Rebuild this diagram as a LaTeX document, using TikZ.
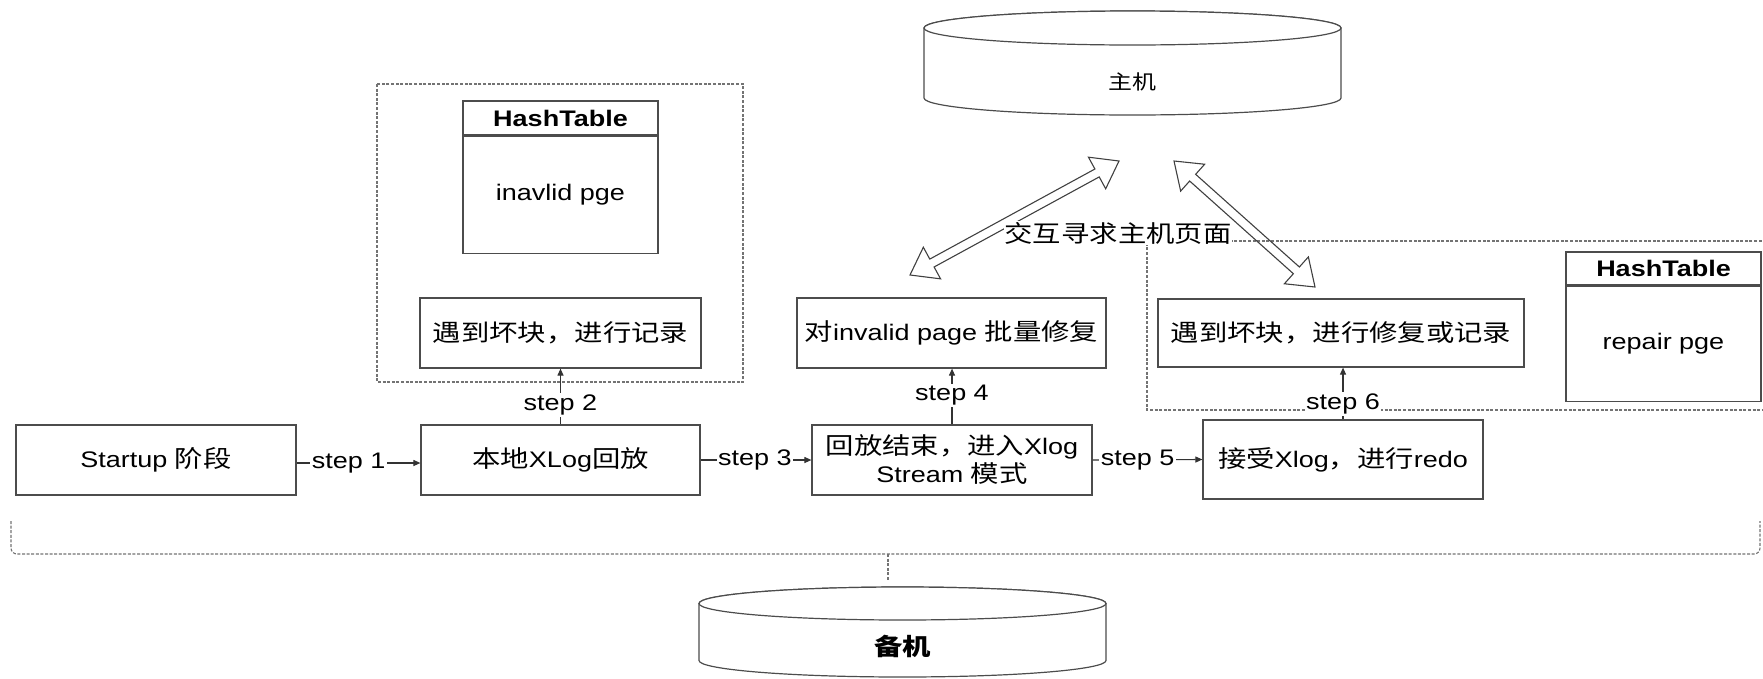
\documentclass[tikz,border=0pt]{standalone}
\usepackage{fontspec}
\setmainfont[FakeStretch=1.2]{Liberation Sans}
\newfontfamily\cjk[FakeStretch=1.2,Scale=1.05]{Noto Sans CJK SC}
\usetikzlibrary{arrows.meta,calc}
\newcommand\zh[1]{{\cjk #1}}
\newcommand\dblarr[2]{%
  \draw[dbl] (#1) -- ($(#1)!25pt!(#2)!18pt!90:(#2)$) -- ($(#1)!25pt!(#2)!4.5pt!90:(#2)$)
    -- ($(#2)!25pt!(#1)!4.5pt!-90:(#1)$) -- ($(#2)!25pt!(#1)!18pt!-90:(#1)$) -- (#2)
    -- ($(#2)!25pt!(#1)!18pt!90:(#1)$) -- ($(#2)!25pt!(#1)!4.5pt!90:(#1)$)
    -- ($(#1)!25pt!(#2)!4.5pt!-90:(#2)$) -- ($(#1)!25pt!(#2)!18pt!-90:(#2)$) -- cycle;}
\tikzset{
  txt/.style={font=\fontsize{22.5}{28}\selectfont},
  box/.style={txt, draw=black!70, line width=1.2pt, fill=white, align=center, inner sep=0pt},
  lbl/.style={txt, fill=white, inner sep=1.5pt},
  conn/.style={draw=black!80, line width=1.1pt, -{Triangle[length=7pt,width=6pt]}},
  region/.style={draw=black!55, line width=1.1pt, dash pattern=on 3pt off 1.6pt},
  dbl/.style={draw=black!75, line width=1.1pt, line join=miter},
  cyl/.style={draw=black!70, line width=1.2pt, fill=white},
}
\begin{document}
\begin{tikzpicture}[x=1pt, y=-1pt]
\useasboundingbox (0,0) rectangle (1763,678);
\clip (0,0) rectangle (1763,678);

% dashed regions
\draw[region] (377,84) rectangle (743,382);
\draw[region] (1780,241) -- (1147,241) -- (1147,410) -- (1780,410);

% bottom bracket
\coordinate (bl) at (11,521);
\coordinate (br) at (1760,521);
\coordinate (bm) at (888,554);
\coordinate (sbtop) at (888,581);
\draw[region, rounded corners=6pt] (bl) |- (bm) -| (br);
\draw[region] (bm) -- (sbtop);

% cylinders
\draw[cyl] (924,28) -- (924,98) arc[start angle=180,end angle=360,x radius=208.5pt,y radius=17pt]
  -- (1341,28) arc[start angle=0,end angle=180,x radius=208.5pt,y radius=17pt] -- cycle;
\draw[cyl] (1132.5,28) ellipse[x radius=208.5pt,y radius=17pt];
\node[txt, font=\fontsize{19}{22}\selectfont] (host) at (1132,82) {\zh{主机}};

\draw[cyl] (699,603.5) -- (699,660.5) arc[start angle=180,end angle=360,x radius=203.5pt,y radius=16.5pt]
  -- (1106,603.5) arc[start angle=0,end angle=180,x radius=203.5pt,y radius=16.5pt] -- cycle;
\draw[cyl] (902.5,603.5) ellipse[x radius=203.5pt,y radius=16.5pt];
\node[txt] (standby) at (902.5,646) {\zh{\textbf{备机}}};

% hash tables
\node[box, minimum width=195pt, minimum height=34pt, font=\fontsize{22.5}{28}\selectfont\bfseries] (ht1h) at (560.5,118) {HashTable};
\node[box, minimum width=195pt, minimum height=117pt, anchor=north] (ht1b) at (ht1h.south) {inavlid pge};
\node[box, minimum width=195pt, minimum height=33pt, font=\fontsize{22.5}{28}\selectfont\bfseries] (ht2h) at (1663.5,268.5) {HashTable};
\node[box, minimum width=195pt, minimum height=115pt, anchor=north] (ht2b) at (ht2h.south) {repair pge};

% process boxes
\node[box, minimum width=280pt, minimum height=70pt] (startup) at (156,460) {Startup \zh{阶段}};
\node[box, minimum width=279pt, minimum height=70pt] (local) at (560.5,460) {\zh{本地}XLog\zh{回放}};
\node[box, minimum width=280pt, minimum height=70pt] (endrep) at (952,460) {\zh{回放结束，进入}Xlog\\Stream \zh{模式}};
\node[box, minimum width=280pt, minimum height=79pt] (recv) at (1343,459.5) {\zh{接受}Xlog\zh{，进行}redo};
\node[box, minimum width=281pt, minimum height=70pt] (rec1) at (560.5,333) {\zh{遇到坏块，进行记录}};
\node[box, minimum width=309pt, minimum height=70pt] (fix) at (951.5,333) {\zh{对}invalid page \zh{批量修复}};
\node[box, minimum width=366pt, minimum height=68pt] (rec2) at (1341,333) {\zh{遇到坏块，进行修复或记录}};

% connectors
\coordinate (s1) at ($(startup.east)+(0,3)$);
\draw[conn] (s1) -- node[lbl, pos=.42] {step 1} (s1 -| local.west);
\draw[conn] (local.east) -- node[lbl, pos=.49] {step 3} (endrep.west);
\draw[conn] (endrep.east) -- node[lbl, pos=.41] {step 5} (recv.west);
\draw[conn] (local.north) -- node[lbl, pos=.35] {step 2} (local.north |- rec1.south);
\draw[conn] (endrep.north) -- node[lbl, pos=.52] {step 4} (endrep.north |- fix.south);
\draw[conn] (recv.north) -- node[lbl, pos=.3] {step 6} (recv.north |- rec2.south);

% interaction arrows
\coordinate (la1) at (910,275);
\coordinate (la2) at (1119,161);
\coordinate (ra1) at (1174,161);
\coordinate (ra2) at (1315,287);
\dblarr{la1}{la2}
\dblarr{ra1}{ra2}
\node[lbl, inner sep=1pt] (ask) at (1118,233) {\zh{交互寻求主机页面}};
\end{tikzpicture}
\end{document}
